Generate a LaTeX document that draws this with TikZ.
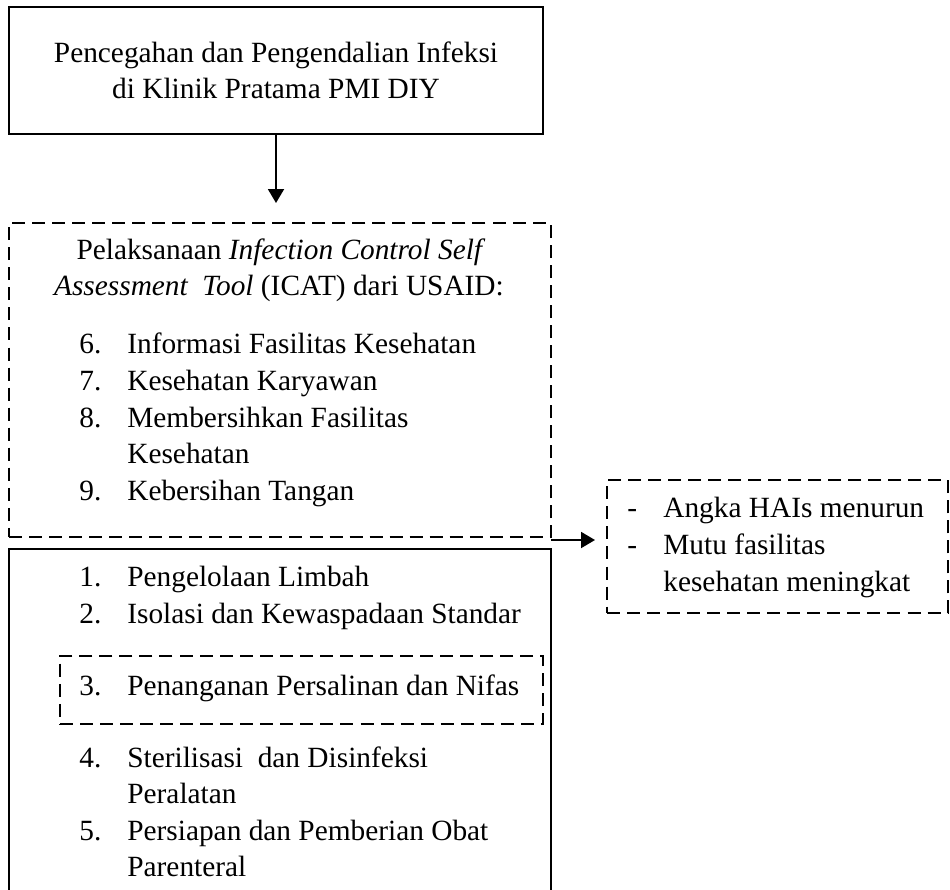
\documentclass[tikz,border=0pt]{standalone}
\usepackage{fontspec}
\setmainfont{Liberation Serif}
\usetikzlibrary{arrows.meta}
\newcommand{\nomor}[2][0.96cm]{\makebox[#1][l]{#2}}
\tikzset{
  kotak/.style={draw,line width=1.1pt,inner sep=0pt,outer sep=0pt},
  kotakputus/.style={kotak,dash pattern=on 7.4pt off 4pt},
  teks/.style={anchor=base west,inner sep=0pt,font=\fontsize{16.7pt}{20.8pt}\selectfont},
  teksc/.style={teks,anchor=base},
  panah/.style={line width=1.1pt,-{Triangle[length=2.8mm,width=3.2mm]}}
}

\begin{document}
\begin{tikzpicture}
\useasboundingbox (0,0) rectangle (19,-17.78);

% boxes
\node[kotak,minimum width=10.68cm,minimum height=2.54cm] (ppi) at (5.52,-1.41) {};
\node[kotakputus,minimum width=10.84cm,minimum height=6.28cm] (icat) at (5.6,-7.6) {};
\node[kotak,minimum width=10.84cm,minimum height=7.4cm] (sisa) at (5.6,-14.68) {};
\node[kotakputus,minimum width=9.66cm,minimum height=1.36cm] (nifas) at (6.03,-13.8) {};
\node[kotakputus,minimum width=6.82cm,minimum height=2.66cm] (hasil) at (15.55,-10.93) {};

% arrows
\draw[panah] (ppi.south) -- ++(0,-1.38) coordinate (ujung1);
\draw[panah] ([yshift=-0.06cm]icat.south east) -- ++(0.88,0) coordinate (ujung2);

% top
\node[teksc] (judul1) at (5.52,-1.24) {Pencegahan dan Pengendalian Infeksi};
\node[teksc] (judul2) at (5.52,-1.96) {di Klinik Pratama PMI DIY};

% icat
\node[teksc] (icat1) at (5.62,-5.18) {Pelaksanaan \textit{Infection Control Self}};
\node[teksc] (icat2) at (5.58,-5.9) {\textit{Assessment\ \ Tool} (ICAT) dari USAID:};
\node[teks] (item6) at (1.58,-7.06) {\nomor{6.}Informasi Fasilitas Kesehatan};
\node[teks] (item7) at (1.58,-7.8) {\nomor{7.}Kesehatan Karyawan};
\node[teks] (item8) at (1.58,-8.54) {\nomor{8.}Membersihkan Fasilitas};
\node[teks] (item8b) at (2.54,-9.26) {Kesehatan};
\node[teks] (item9) at (1.58,-10) {\nomor{9.}Kebersihan Tangan};

% rest
\node[teks] (item1) at (1.58,-11.72) {\nomor{1.}Pengelolaan Limbah};
\node[teks] (item2) at (1.58,-12.46) {\nomor{2.}Isolasi dan Kewaspadaan Standar};
\node[teks] (item3) at (1.58,-13.9) {\nomor{3.}Penanganan Persalinan dan Nifas};
\node[teks] (item4) at (1.58,-15.34) {\nomor{4.}Sterilisasi\ \ dan Disinfeksi};
\node[teks] (item4b) at (2.54,-16.06) {Peralatan};
\node[teks] (item5) at (1.58,-16.8) {\nomor{5.}Persiapan dan Pemberian Obat};
\node[teks] (item5b) at (2.54,-17.52) {Parenteral};

% result
\node[teks] (hasil1) at (12.54,-10.34) {\nomor[0.72cm]{-}Angka HAIs menurun};
\node[teks] (hasil2) at (12.54,-11.08) {\nomor[0.72cm]{-}Mutu fasilitas};
\node[teks] (hasil2b) at (13.26,-11.82) {kesehatan meningkat};
\end{tikzpicture}
\end{document}
